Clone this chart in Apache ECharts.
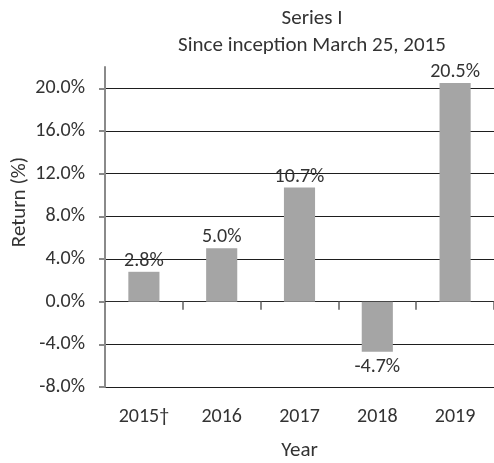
<!DOCTYPE html>
<html>
<head>
<meta charset="utf-8">
<script src="https://cdn.jsdelivr.net/npm/echarts@6/dist/echarts.min.js"></script>
<style>
html,body{margin:0;padding:0;background:#fff;}
#chart{width:494px;height:463px;}
</style>
</head>
<body>
<div id="chart"></div>
<script>
const categories = ['2015\u2020', '2016', '2017', '2018', '2019'];
const returns = [2.8, 5.0, 10.7, -4.7, 20.5];
const yTicks = [-8, -4, 0, 4, 8, 12, 16, 20];
const titleLines = ['Series I', 'Since inception March 25, 2015'];
const yName = 'Return (%)';
const xName = 'Year';

const FONT = 'Calibri, Carlito, Lato, sans-serif';
const TXT = '#333333';
const FS = 20;
const chart = echarts.init(document.getElementById('chart'));
chart.setOption({
  animation: false,
  backgroundColor: '#ffffff',
  title: {
    text: titleLines.join('\n'),
    left: 307, textAlign: 'center', top: 0,
    textStyle: { fontFamily: FONT, fontSize: 21, fontWeight: 'normal', color: TXT, lineHeight: 27 }
  },
  grid: { left: 105, right: 0, top: 67, bottom: 76, containLabel: false, outerBoundsMode: 'none' },
  xAxis: [{
    type: 'category', data: categories, position: 'bottom',
    axisLine: { show: false, onZero: false },
    axisTick: { show: false },
    axisLabel: { margin: 20, fontFamily: FONT, fontSize: FS, color: TXT },
    name: xName, nameLocation: 'middle', nameGap: 53,
    nameTextStyle: { fontFamily: FONT, fontSize: 21, color: TXT }
  }, {
    type: 'category', data: categories, position: 'bottom',
    axisLine: { show: true, onZero: true, lineStyle: { color: '#2a2a2a', width: 1 } },
    axisTick: { show: true, length: 8, lineStyle: { color: '#888888', width: 2 } },
    axisLabel: { show: false }
  }],
  yAxis: {
    type: 'value', min: -8, max: 22, interval: 4,
    axisLine: { show: true, lineStyle: { color: '#8a8a8a', width: 2 } },
    axisTick: { show: true, length: 6, customValues: yTicks, lineStyle: { color: '#8a8a8a', width: 2 } },
    axisLabel: { customValues: yTicks, margin: 20, fontFamily: FONT, fontSize: FS, color: TXT,
      formatter: v => v.toFixed(1) + '%' },
    splitLine: { show: true, lineStyle: { color: '#1e1e1e', width: 1 } }
  },
  graphic: [{
    type: 'text', x: 20, y: 202, rotation: Math.PI / 2,
    style: { text: yName, fontFamily: FONT, fontSize: 21, fill: TXT, align: 'center', verticalAlign: 'middle' }
  }],
  series: [{
    type: 'bar', xAxisIndex: 0,
    data: returns.map(v => v < 0 ? { value: v, label: { position: 'bottom', distance: 5 } } : v),
    barWidth: '40%',
    itemStyle: { color: '#a5a5a5' },
    label: {
      show: true, position: 'top', distance: 1,
      fontFamily: FONT, fontSize: FS, color: TXT,
      formatter: p => p.value.toFixed(1) + '%'
    }
  }]
});
</script>
</body>
</html>
